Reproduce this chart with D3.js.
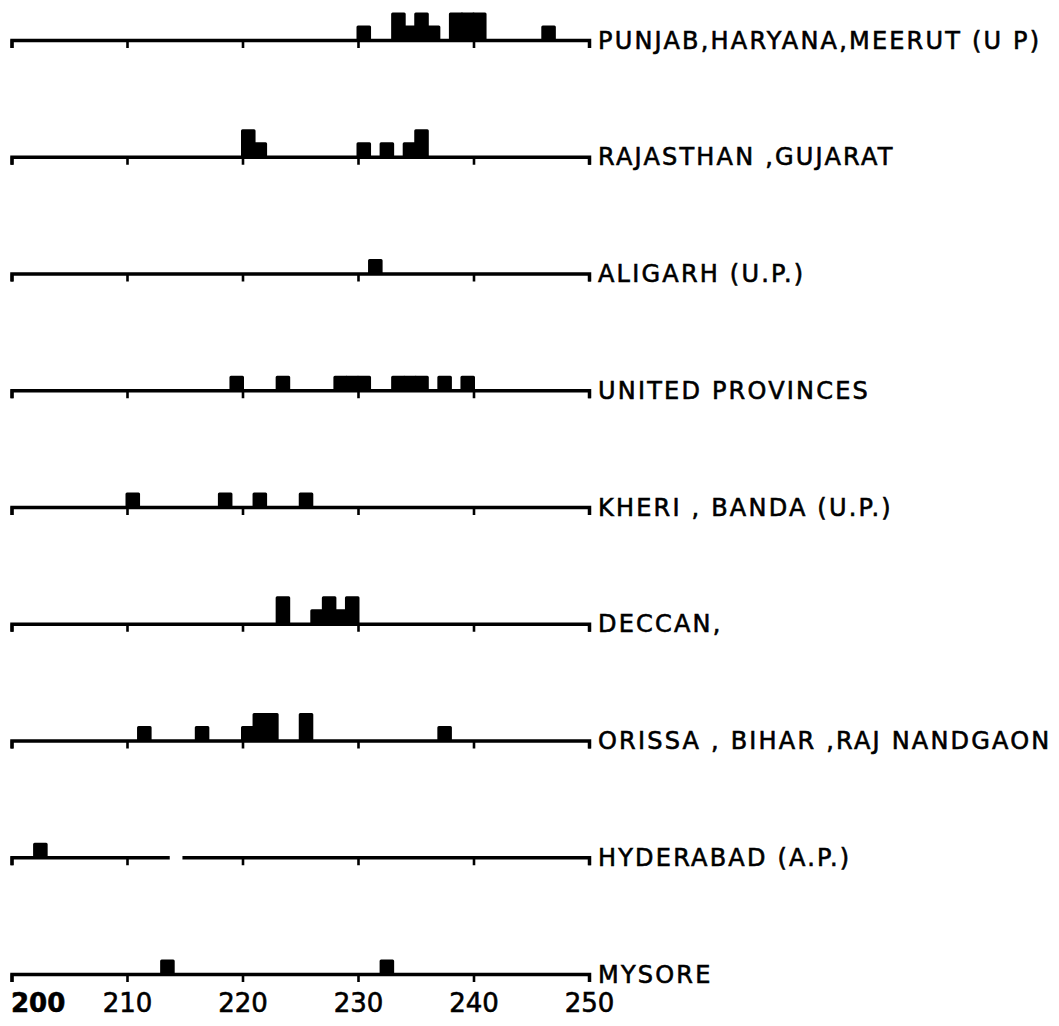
<!DOCTYPE html>
<html>
<head>
<meta charset="utf-8">
<script src="https://cdn.jsdelivr.net/npm/d3@7"></script>
<style>
  body { margin: 0; background: #fff; }
  .label { font-family: "DejaVu Sans", sans-serif; font-size: 24px; letter-spacing: 2.2px; fill: #000; stroke: #000; stroke-width: 0.6px; }
  .xaxis text { font-family: "DejaVu Sans", sans-serif; font-size: 26px; fill: #000; stroke: #000; stroke-width: 0.6px; }
</style>
</head>
<body>
<div id="chart"></div>
<script>
// regions, top to bottom
var regions = [
    "PUNJAB,HARYANA,MEERUT (U P)",
    "RAJASTHAN ,GUJARAT",
    "ALIGARH (U.P.)",
    "UNITED PROVINCES",
    "KHERI , BANDA (U.P.)",
    "DECCAN,",
    "ORISSA , BIHAR ,RAJ NANDGAON",
    "HYDERABAD (A.P.)",
    "MYSORE"
];

// [bin start, count] for each region, bins one unit wide
var punjab = [[230, 1], [233, 2], [234, 1], [235, 2], [236, 1], [238, 2], [239, 2], [240, 2], [246, 1]];
var rajasthan = [[220, 2], [221, 1], [230, 1], [232, 1], [234, 1], [235, 2]];
var aligarh = [[231, 1]];
var unitedProv = [[219, 1], [223, 1], [228, 1], [229, 1], [230, 1], [233, 1], [234, 1], [235, 1], [237, 1], [239, 1]];
var kheri = [[210, 1], [218, 1], [221, 1], [225, 1]];
var deccan = [[223, 2], [226, 1], [227, 2], [228, 1], [229, 2]];
var orissa = [[211, 1], [216, 1], [220, 1], [221, 2], [222, 2], [225, 2], [237, 1]];
var hyderabad = [[202, 1]];
var mysore = [[213, 1], [232, 1]];

var counts = [punjab, rajasthan, aligarh, unitedProv, kheri, deccan, orissa, hyderabad, mysore];

// axis ticks
var tickValues = [200, 210, 220, 230, 240, 250];

// break in the hyderabad base line
var hyderabadGap = [213.7, 214.8];

var svgWidth = 1059;
var svgHeight = 1026;

var svg = d3.select("#chart")
    .append("svg")
    .attr("width", svgWidth)
    .attr("height", svgHeight);

var x = d3.scaleLinear()
    .domain([200, 250])
    .range([11.5, 589]);

var yRow = d3.scalePoint()
    .domain(regions)
    .range([40, 974]);

var yCount = d3.scaleLinear()
    .domain([0, 2])
    .range([0, -26]);

regions.forEach(function (name, i) {
    var row = svg.append("g")
        .attr("transform", `translate(0, ${yRow(name)})`);

    // bars first, base line on top
    row.selectAll("rect.bar")
        .data(counts[i])
        .enter()
        .append("rect")
        .attr("class", "bar")
        .attr("x", d => x(d[0]))
        .attr("width", d => x(d[0] + 1) - x(d[0]))
        .attr("y", d => yCount(d[1]))
        .attr("height", d => yCount(0) - yCount(d[1]))
        .attr("fill", "#000")
        .attr("stroke", "#000")
        .attr("stroke-width", 3)
        .attr("stroke-linejoin", "round");

    var axis = d3.axisBottom(x)
        .tickValues(tickValues)
        .tickSize(8)
        .tickSizeOuter(8)
        .tickPadding(12);

    var last = i === regions.length - 1;
    if (!last) axis.tickFormat("");

    var g = row.append("g")
        .attr("class", "xaxis")
        .call(axis);

    g.select(".domain")
        .attr("stroke", "#000")
        .attr("stroke-width", 3.5)
        .attr("fill", "none");
    g.selectAll(".tick line")
        .attr("stroke", "#000")
        .attr("stroke-width", 2.6);

    if (last) {
        g.selectAll(".tick text")
            .attr("font-weight", d => d === 200 ? "bold" : "normal")
            .attr("text-anchor", d => d === 200 ? "start" : "middle")
            .attr("dx", d => d === 200 ? -1 : 0);
    }

    if (name === "HYDERABAD (A.P.)") {
        row.append("rect")
            .attr("x", x(hyderabadGap[0]))
            .attr("width", x(hyderabadGap[1]) - x(hyderabadGap[0]))
            .attr("y", -4)
            .attr("height", 7)
            .attr("fill", "#fff");
    }

    row.append("text")
        .attr("class", "label")
        .attr("x", 598)
        .attr("y", 0)
        .attr("dy", "0.36em")
        .text(name);
});
</script>
</body>
</html>
